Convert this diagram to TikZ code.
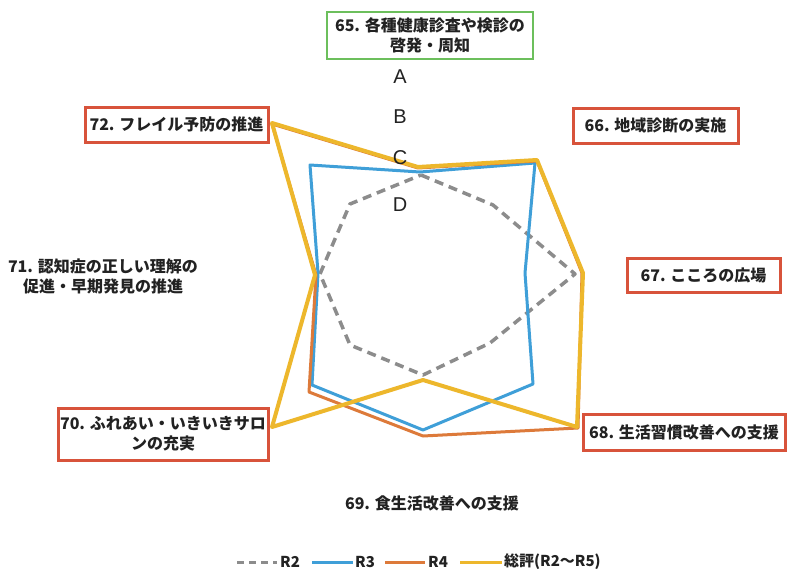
\documentclass[tikz,border=0pt]{standalone}
\usepackage{fontspec}
\setmainfont{Liberation Sans}
\newfontfamily\jp{Noto Sans CJK JP}
\definecolor{grayR}{HTML}{8C8C8C}
\definecolor{blueR}{HTML}{3F9FD8}
\definecolor{orangeR}{HTML}{DD7A3A}
\definecolor{yellowR}{HTML}{EDB72C}
\definecolor{redB}{HTML}{D8533B}
\definecolor{greenB}{HTML}{6CBF5C}
\definecolor{txt}{HTML}{222222}
\begin{document}
\begin{tikzpicture}[x=1pt,y=-1pt,
  jptext/.style={text=txt,font=\jp\bfseries\fontsize{16}{20}\selectfont,align=center,inner sep=0pt},
  redbox/.style={jptext,draw=redB,line width=3pt,fill=white},
  greenbox/.style={jptext,draw=greenB,line width=2pt,fill=white},
  lvl/.style={text=txt,font=\fontsize{20}{20}\selectfont,inner sep=0pt},
  r2line/.style={draw=grayR,line width=3.5pt,dash pattern=on 9pt off 6pt,line join=round},
  r3line/.style={draw=blueR,line width=3pt,line join=round},
  r4line/.style={draw=orangeR,line width=3pt,line join=round},
  r5line/.style={draw=yellowR,line width=4pt,line join=round},
  legtext/.style={text=txt,font=\jp\bfseries\fontsize{15}{15}\selectfont,inner sep=0pt,anchor=west}
]
\useasboundingbox (0,0) rectangle (787,570);
\fill[white] (0,0) rectangle (787,570);

% series
\draw[r2line] (421,175) -- (493,205) -- (575,274) -- (490,343) -- (423,375) -- (350,345) -- (320,274) -- (350,204) -- cycle;
\draw[r3line] (420,172) -- (535,163) -- (525,273) -- (533,384) -- (423,430) -- (312,385) -- (318,273) -- (310,165) -- cycle;
\draw[r4line] (418,168) -- (537,161) -- (582,273) -- (578,428) -- (423,436) -- (309,392) -- (316,275) -- (272,124) -- cycle;
\draw[r5line] (418,167) -- (537,160) -- (583,273) -- (577,427) -- (423,380) -- (272,427) -- (315,275) -- (272,123) -- cycle;

% level labels
\node[lvl] (lA) at (400,77) {A};
\node[lvl] (lB) at (400,117) {B};
\node[lvl] (lC) at (400,158) {C};
\node[lvl] (lD) at (400,205) {D};

% category labels
\node[greenbox,minimum width=206pt,minimum height=47pt] (l65) at (430,35.5) {65. 各種健康診査や検診の\\啓発・周知};
\node[redbox,minimum width=183pt,minimum height=35pt] (l72) at (176.5,124.5) {72. フレイル予防の推進};
\node[redbox,minimum width=165pt,minimum height=35pt] (l66) at (655.5,125.5) {66. 地域診断の実施};
\node[redbox,minimum width=153pt,minimum height=34pt] (l67) at (703.5,275) {67. こころの広場};
\node[redbox,minimum width=202pt,minimum height=36pt] (l68) at (684,432) {68. 生活習慣改善への支援};
\node[redbox,minimum width=210pt,minimum height=52pt] (l70) at (163,434) {70. ふれあい・いきいきサロ\\ンの充実};
\node[jptext] (l71) at (103,276) {71. 認知症の正しい理解の\\促進・早期発見の推進};
\node[jptext] (l69) at (432,503) {69. 食生活改善への支援};

% legend
\coordinate (g2a) at (237,562); \coordinate (g2b) at (277,562);
\coordinate (g3a) at (312,562); \coordinate (g3b) at (353,562);
\coordinate (g4a) at (385,562); \coordinate (g4b) at (425,562);
\coordinate (g5a) at (460,562); \coordinate (g5b) at (502,562);
\draw[draw=grayR,line width=3pt,dash pattern=on 7pt off 5pt] (g2a) -- (g2b);
\draw[draw=blueR,line width=3pt] (g3a) -- (g3b);
\draw[draw=orangeR,line width=3pt] (g4a) -- (g4b);
\draw[draw=yellowR,line width=3pt] (g5a) -- (g5b);
\node[legtext] (t2) at (280,562) {R2};
\node[legtext] (t3) at (355,562) {R3};
\node[legtext] (t4) at (428,562) {R4};
\node[legtext] (t5) at (504,562) {総評(R2〜R5)};
\end{tikzpicture}
\end{document}
